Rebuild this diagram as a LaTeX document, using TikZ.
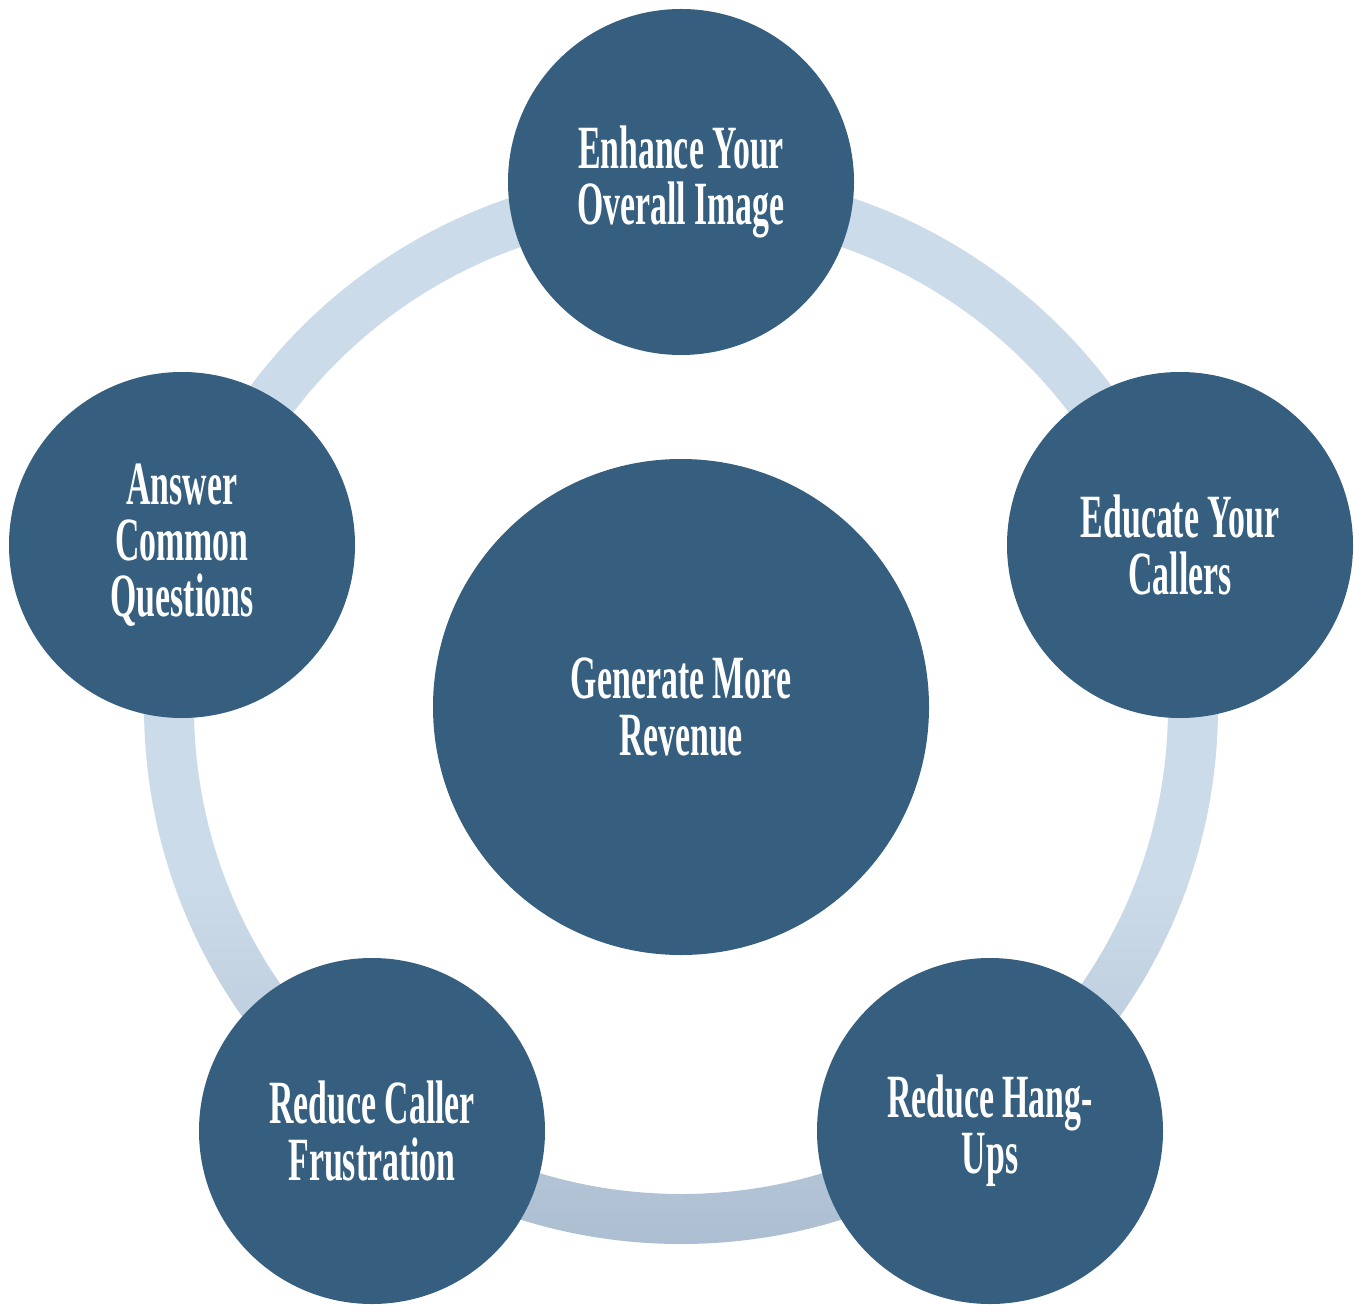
\documentclass[tikz,border=0pt]{standalone}
\usepackage{fontspec}
\usepackage{tikz}
\newfontfamily\cyclefont[FakeStretch=0.55]{Liberation Serif}
\definecolor{discblue}{RGB}{54,94,127}
\definecolor{ringtop}{RGB}{204,219,233}
\definecolor{ringbot}{RGB}{172,190,209}
\pgfdeclareverticalshading{ringfade}{100bp}{color(0bp)=(ringbot); color(25bp)=(ringbot); color(42bp)=(ringtop); color(100bp)=(ringtop)}

\begin{document}
\begin{tikzpicture}
\tikzset{vertex/.style = {shape=circle,fill=discblue,text=white,align=center,inner sep=0pt,minimum size=3.46cm,font=\cyclefont\bfseries\fontsize{17.5}{16}\selectfont}}
\tikzset{hub/.style = {vertex,minimum size=4.96cm}}
\useasboundingbox (0,0) rectangle (13.54,13.04);
% ring
\path[shade,shading=ringfade,even odd rule]
  (6.81,5.97) circle (5.37) (6.81,5.97) circle (4.87);
% vertices
\node[hub] (rev) at (6.81,5.97) {Generate More\\Revenue};
\node[vertex] (img) at (6.81,11.22) {Enhance Your\\Overall Image};
\node[vertex] (edu) at (11.80,7.59) {Educate Your\\Callers};
\node[vertex] (hang) at (9.90,1.73) {Reduce Hang-\\Ups};
\node[vertex] (frus) at (3.72,1.73) {Reduce Caller\\Frustration};
\node[vertex] (ans) at (1.82,7.59) {Answer\\Common\\Questions};
\end{tikzpicture}
\end{document}
